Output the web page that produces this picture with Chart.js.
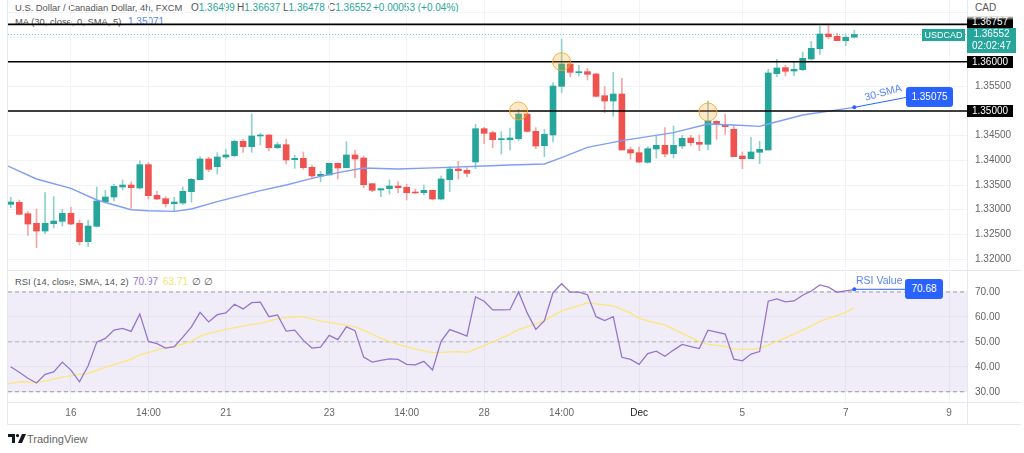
<!DOCTYPE html>
<html lang="en">
<head>
<meta charset="UTF-8">
<title>USDCAD 4h</title>
<script src="https://cdn.jsdelivr.net/npm/chart.js"></script>
<style>
    body { margin: 0; background: #fff; font-family: "Liberation Sans", Arial, sans-serif; }
    #page { position: relative; width: 1024px; height: 453px; overflow: hidden; }
    canvas { position: absolute; left: 0; z-index: 2; }
    .txt { position: absolute; white-space: nowrap; font-size: 10px; line-height: 12px; color: #555; z-index: 1; }
    .tag { position: absolute; white-space: nowrap; font-size: 10px; color: #fff; text-align: center; z-index: 3; }
    .rule { position: absolute; background: #e6e8ef; z-index: 0; }
    .teal { color: #26a69a; }
</style>
</head>
<body>
<div id="page">
    <div class="rule" style="left:7px;top:0;width:1px;height:424px"></div>
    <div class="rule" style="left:967px;top:0;width:1px;height:424px"></div>
    <div class="rule" style="left:7px;top:270px;width:1014px;height:1px"></div>
    <div class="rule" style="left:7px;top:402px;width:1014px;height:1px"></div>
    <div class="rule" style="left:7px;top:424px;width:1014px;height:1px"></div>

    <div class="txt" style="left:15px;top:2px;font-size:9.4px">U.S. Dollar / Canadian Dollar, 4h, FXCM</div>
    <div class="txt" style="left:191px;top:2px">O<span class="teal">1.36499</span></div>
    <div class="txt" style="left:237px;top:2px">H<span class="teal">1.36637</span></div>
    <div class="txt" style="left:283px;top:2px">L<span class="teal">1.36478</span></div>
    <div class="txt" style="left:328px;top:2px">C<span class="teal">1.36552</span></div>
    <div class="txt teal" style="left:373px;top:2px">+0.00053 (+0.04%)</div>
    <div class="txt" style="left:15px;top:16px;font-size:9.4px">MA (30, close, 0, SMA, 5)</div>
    <div class="txt" style="left:128px;top:16px;color:#5b83f5">1.35071</div>
    <div class="txt" style="left:975px;top:2px">CAD</div>

    <div class="txt" style="left:15px;top:276px;font-size:9.4px">RSI (14, close, SMA, 14, 2)</div>
    <div class="txt" style="left:133px;top:276px;color:#9575cd">70.97</div>
    <div class="txt" style="left:163px;top:276px;color:#f7e36c">63.71</div>
    <div class="txt" style="left:192px;top:276px">∅</div>
    <div class="txt" style="left:204px;top:276px">∅</div>

    <div class="txt" style="left:864px;top:86px;color:#5b83f5;font-size:10.5px;transform:rotate(-15deg);z-index:3">30-SMA</div>
    <div class="txt" style="left:856px;top:274px;color:#5b83f5;font-size:10.5px;z-index:3">RSI Value</div>

    <div class="tag" style="left:967px;top:16px;width:46px;height:12px;line-height:12px;background:linear-gradient(#fff,#000 35%)">1.36757</div>
    <div class="tag" style="left:967px;top:56px;width:46px;height:12px;line-height:12px;background:#000">1.36000</div>
    <div class="tag" style="left:967px;top:105px;width:46px;height:12px;line-height:12px;background:#000">1.35000</div>
    <div class="tag" style="left:922px;top:29px;width:43px;height:12px;line-height:12px;background:#26a69a;font-size:9px">USDCAD</div>
    <div class="tag" style="left:967px;top:28px;width:49px;height:25px;line-height:12px;background:#26a69a">1.36552<br>02:02:47</div>
    <div class="tag" style="left:906px;top:87px;width:47px;height:20px;line-height:20px;background:#2962ff;border-radius:3px">1.35075</div>
    <div class="tag" style="left:905px;top:279px;width:38px;height:20px;line-height:20px;background:#2962ff;border-radius:3px">70.68</div>

    <svg style="position:absolute;left:8px;top:434px" width="18" height="10" viewBox="0 0 18 10">
        <path d="M0 0h7v9H4V3H0z M9.5 0a1.6 1.6 0 1 1 0 3.2a1.6 1.6 0 0 1 0-3.2z M14 0h4l-4 9h-4z" fill="#131722"/>
    </svg>
    <div class="txt" style="left:27px;top:433px;font-size:11px;line-height:13px;color:#666">TradingView</div>

    <canvas id="priceChart" width="1024" height="270" style="top:0"></canvas>
    <canvas id="rsiChart" width="1024" height="154" style="top:270px"></canvas>
</div>

<script>
    // OHLC, one entry per 4h bar
    const opens = [
        1.33108, 1.33149, 1.32919, 1.32723, 1.32567, 1.32716, 1.32763, 1.32926, 1.32723, 1.32351,
        1.32662, 1.33162, 1.33257, 1.33460, 1.33500, 1.33439, 1.33913, 1.33291, 1.33223, 1.33122,
        1.33135, 1.33365, 1.33608, 1.34028, 1.33872, 1.34068, 1.34095, 1.34386, 1.34278, 1.34494,
        1.34514, 1.34257, 1.34318, 1.34014, 1.34041, 1.33858, 1.33683, 1.33703, 1.33940, 1.33852,
        1.34109, 1.34048, 1.33527, 1.33399, 1.33426, 1.33480, 1.33453, 1.33358, 1.33345, 1.33392,
        1.33216, 1.33608, 1.33825, 1.33798, 1.33967, 1.34642, 1.34561, 1.34419, 1.34419, 1.34440,
        1.34939, 1.34588, 1.34298, 1.34514, 1.35500, 1.35953, 1.35777, 1.35798, 1.35751, 1.35311,
        1.35203, 1.35345, 1.34217, 1.34156, 1.33960, 1.34230, 1.34305, 1.34136, 1.34291, 1.34453,
        1.34366, 1.34325, 1.34791, 1.34730, 1.34629, 1.34088, 1.34034, 1.34163, 1.34210, 1.35757,
        1.35879, 1.35811, 1.35838, 1.36055, 1.36264, 1.36562, 1.36514, 1.36426, 1.36499
    ];
    const highs = [
        1.33250, 1.33196, 1.32959, 1.33014, 1.33345, 1.33264, 1.33007, 1.33054, 1.32790, 1.32790,
        1.33460, 1.33392, 1.33521, 1.33602, 1.33568, 1.33994, 1.33953, 1.33372, 1.33264, 1.33250,
        1.33460, 1.33635, 1.34075, 1.34061, 1.34156, 1.34224, 1.34413, 1.34426, 1.34939, 1.34548,
        1.34521, 1.34366, 1.34426, 1.34102, 1.34170, 1.33906, 1.33777, 1.33946, 1.33946, 1.34379,
        1.34203, 1.34089, 1.33534, 1.33426, 1.33602, 1.33568, 1.33514, 1.33419, 1.33500, 1.33399,
        1.33683, 1.33872, 1.33980, 1.33852, 1.34730, 1.34669, 1.34588, 1.34581, 1.34656, 1.35034,
        1.34953, 1.34662, 1.34629, 1.35575, 1.36460, 1.36000, 1.35926, 1.35865, 1.35764, 1.35493,
        1.35784, 1.35662, 1.34271, 1.34271, 1.34278, 1.34494, 1.34662, 1.34696, 1.34507, 1.34507,
        1.34514, 1.35203, 1.34804, 1.34939, 1.34716, 1.34170, 1.34467, 1.34386, 1.35845, 1.36048,
        1.35926, 1.35994, 1.36197, 1.36413, 1.36724, 1.36764, 1.36575, 1.36562, 1.36637
    ];
    const lows = [
        1.33041, 1.32905, 1.32479, 1.32229, 1.32506, 1.32628, 1.32669, 1.32696, 1.32283, 1.32250,
        1.32662, 1.33149, 1.33176, 1.33399, 1.33027, 1.33419, 1.33216, 1.33203, 1.33054, 1.32966,
        1.33108, 1.33155, 1.33602, 1.33771, 1.33723, 1.34034, 1.34068, 1.34163, 1.34163, 1.34311,
        1.34190, 1.34237, 1.33926, 1.33838, 1.33818, 1.33635, 1.33561, 1.33703, 1.33622, 1.33852,
        1.33649, 1.33446, 1.33365, 1.33264, 1.33318, 1.33345, 1.33196, 1.33331, 1.33297, 1.33196,
        1.33196, 1.33365, 1.33622, 1.33669, 1.33831, 1.34338, 1.34257, 1.34129, 1.34210, 1.34399,
        1.34575, 1.34237, 1.34075, 1.34372, 1.35372, 1.35696, 1.35710, 1.35629, 1.35284, 1.34966,
        1.34892, 1.34210, 1.34021, 1.33953, 1.33940, 1.34048, 1.34075, 1.34048, 1.34244, 1.34305,
        1.34197, 1.34210, 1.34426, 1.34527, 1.34075, 1.33831, 1.34034, 1.33933, 1.34210, 1.35696,
        1.35710, 1.35710, 1.35818, 1.36034, 1.36149, 1.36467, 1.36426, 1.36325, 1.36478
    ];
    const closes = [
        1.33155, 1.32905, 1.32709, 1.32567, 1.32723, 1.32770, 1.32926, 1.32709, 1.32351, 1.32669,
        1.33176, 1.33257, 1.33473, 1.33500, 1.33446, 1.33913, 1.33284, 1.33216, 1.33122, 1.33155,
        1.33372, 1.33615, 1.34028, 1.33818, 1.34068, 1.34109, 1.34386, 1.34278, 1.34494, 1.34514,
        1.34257, 1.34318, 1.34007, 1.34041, 1.33852, 1.33683, 1.33717, 1.33940, 1.33845, 1.34109,
        1.34028, 1.33507, 1.33392, 1.33426, 1.33480, 1.33446, 1.33345, 1.33338, 1.33392, 1.33216,
        1.33622, 1.33825, 1.33791, 1.33737, 1.34642, 1.34548, 1.34419, 1.34440, 1.34453, 1.34939,
        1.34588, 1.34291, 1.34527, 1.35507, 1.35953, 1.35784, 1.35798, 1.35744, 1.35298, 1.35203,
        1.35345, 1.34210, 1.34150, 1.33967, 1.34237, 1.34305, 1.34129, 1.34305, 1.34446, 1.34359,
        1.34325, 1.34798, 1.34723, 1.34683, 1.34075, 1.34034, 1.34170, 1.34224, 1.35771, 1.35872,
        1.35805, 1.35845, 1.36068, 1.36271, 1.36562, 1.36508, 1.36426, 1.36494, 1.36552
    ];

    // 30 SMA, read at the bends of the blue line
    const smaBars = [-0.3, 3, 7, 10, 14, 16, 19, 21, 24, 29, 32, 35, 38, 41, 45, 50, 55, 58, 62, 64, 67, 71, 77, 81, 84, 87, 88, 92, 98];
    const smaVals = [1.33885, 1.33622, 1.33432, 1.33196, 1.32999, 1.32979, 1.32966, 1.33014, 1.33162, 1.33385,
        1.33500, 1.33635, 1.33750, 1.33845, 1.33824, 1.33852, 1.33885, 1.33906, 1.33926, 1.34054,
        1.34264, 1.34399, 1.34561, 1.34737, 1.34716, 1.34689, 1.34737, 1.34919, 1.35075];

    const rsiVals = [
        40.0, 37.8, 35.4, 33.5, 37.0, 38.0, 41.9, 38.7, 34.0, 40.4,
        49.9, 51.4, 54.7, 55.4, 54.2, 61.2, 50.2, 49.3, 47.5, 48.1,
        51.9, 56.0, 61.8, 58.0, 60.9, 61.6, 65.1, 63.2, 65.7, 65.9,
        60.1, 60.8, 54.3, 54.7, 50.6, 47.5, 47.9, 52.6, 50.9, 56.0,
        54.5, 43.9, 41.9, 42.6, 43.2, 43.0, 41.0, 40.8, 42.2, 38.7,
        50.2, 54.9, 53.7, 52.3, 68.0, 66.3, 62.8, 62.8, 62.9, 70.0,
        61.6, 55.0, 58.5, 69.7, 73.3, 69.9, 69.9, 68.9, 60.1, 58.5,
        60.1, 43.8, 43.0, 41.0, 45.3, 46.3, 44.2, 46.7, 49.0, 48.1,
        47.3, 54.7, 53.9, 53.1, 43.1, 42.4, 45.1, 46.1, 66.3, 67.2,
        66.0, 66.4, 68.7, 70.4, 72.8, 71.9, 69.9, 70.4, 70.97
    ];
    const rsiSmaBars = [-0.3, 1, 3, 4, 6, 8, 9, 11, 14, 15, 18, 19, 21, 22, 23, 25, 28, 29, 31, 33, 34, 36, 38, 40, 42, 43, 45, 47, 49,
        52, 53, 55, 58, 59, 61, 62, 64, 66, 67, 68, 70, 72, 73, 74, 76, 78, 80, 81, 83, 84, 86, 87, 89, 91, 93, 94, 95, 97, 98];
    const rsiSmaVals = [33.2, 34.0, 33.9, 34.3, 35.9, 37.0, 37.4, 39.8, 43.1, 44.8, 47.7, 48.1, 50.2, 52.3, 53.4, 55.0, 57.0, 57.4, 59.2, 60.1, 60.0, 58.4, 57.2, 56.1, 53.1, 51.4, 49.0, 47.1, 45.7,
        46.1, 45.8, 48.5, 53.0, 54.9, 57.2, 58.5, 62.4, 64.5, 65.6, 65.2, 64.4, 61.6, 59.4, 58.4, 56.8, 53.4, 50.1, 49.0, 48.2, 47.1, 47.0, 47.4, 50.2, 53.1, 56.4, 58.2, 59.4, 61.8, 63.71];

    const levels = [1.36757, 1.36, 1.35];
    const lastPrice = 1.36552;
    const circleBars = [59, 64, 81];
    const circlePrices = [1.35, 1.36, 1.3498];
    const smaNoteBars = [98, 104.1];
    const smaNotePrices = [1.35075, 1.35278];
    const rsiNoteBars = [98, 104];
    const rsiNoteVals = [71.07, 71.07];

    const priceTicks = [1.32, 1.325, 1.33, 1.335, 1.34, 1.345, 1.35, 1.355, 1.36, 1.365, 1.37];
    const hiddenPriceLabels = [1.35, 1.36, 1.365, 1.37];
    const rsiTicks = [30, 40, 50, 60, 70];
    const timeBars = [7, 16, 25, 37, 46, 55, 64, 73, 85, 97, 109];
    const timeLabels = ['16', '14:00', '21', '23', '14:00', '28', '14:00', 'Dec', '5', '7', '9'];

    const xMin = -0.31, xMax = 111.09;
    const UP = '#26a69a', DOWN = '#ef5350', UP_WICK = '#8ed3cb', DOWN_WICK = '#f6a5a3';
    const GRID = '#f2f3f8', AXIS_TEXT = '#666';
    const FONT = '"Liberation Sans", Arial, sans-serif';

    const isUp = opens.map((o, i) => closes[i] >= o);
    const points = (xs, ys) => xs.map((x, i) => ({ x: x, y: ys[i] }));
    const flat = v => [{ x: xMin, y: v }, { x: xMax, y: v }];

    // scales leave room for half a label at each end, the panes here run edge to edge
    function noPadding(s) {
        s.paddingTop = 0;
        s.paddingBottom = 0;
        s.paddingLeft = 0;
        s.paddingRight = 0;
    }

    function rightAxis(ticks, extra) {
        return Object.assign({
            type: 'linear',
            position: 'right',
            afterFit: s => { s.width = 57; noPadding(s); },
            afterBuildTicks: s => { s.ticks = ticks.map(v => ({ value: v })); },
            grid: { color: GRID, drawTicks: false },
            border: { display: false },
            ticks: { color: AXIS_TEXT, font: { family: FONT, size: 10 }, padding: 8, autoSkip: false, maxRotation: 0 }
        }, extra);
    }

    function timeAxis(showLabels) {
        return {
            type: 'linear',
            min: xMin,
            max: xMax,
            offset: false,
            display: true,
            afterFit: s => { s.height = showLabels ? 22 : 0; noPadding(s); },
            afterBuildTicks: s => { s.ticks = timeBars.map(v => ({ value: v })); },
            grid: { color: GRID, offset: false, drawTicks: false },
            border: { display: false },
            ticks: {
                display: showLabels,
                autoSkip: false,
                maxRotation: 0,
                padding: 5,
                color: c => (timeLabels[timeBars.indexOf(c.tick.value)] === 'Dec' ? '#222' : AXIS_TEXT),
                font: { family: FONT, size: 10 },
                callback: v => timeLabels[timeBars.indexOf(v)]
            }
        };
    }

    const lineDefaults = { type: 'line', pointRadius: 0, tension: 0, fill: false };
    const common = {
        responsive: false,
        animation: false,
        events: [],
        layout: { autoPadding: false, padding: { left: 8, right: 0, top: 0, bottom: 0 } },
        plugins: { legend: { display: false }, tooltip: { enabled: false } }
    };

    new Chart(document.getElementById('priceChart'), {
        type: 'bar',
        data: {
            datasets: [
                ...levels.map(v => Object.assign({}, lineDefaults, { data: flat(v), borderColor: '#000', borderWidth: 1.6, order: 1 })),
                Object.assign({}, lineDefaults, { data: flat(lastPrice), borderColor: 'rgba(38,166,154,.6)', borderWidth: 1, borderDash: [1, 2], order: 6 }),
                Object.assign({}, lineDefaults, { data: points(smaBars, smaVals), borderColor: '#7f9ef7', borderWidth: 1.4, order: 2 }),
                Object.assign({}, lineDefaults, {
                    data: points(smaNoteBars, smaNotePrices),
                    borderColor: '#2962ff', borderWidth: 1, order: 0,
                    pointRadius: [2, 0], pointBackgroundColor: '#2962ff', pointBorderWidth: 0
                }),
                Object.assign({}, lineDefaults, {
                    data: points(circleBars, circlePrices), showLine: false, order: 0,
                    pointRadius: 9, pointBackgroundColor: 'rgba(255,167,38,.25)',
                    pointBorderColor: 'rgba(245,166,35,.85)', pointBorderWidth: 1
                }),
                {
                    data: opens.map((o, i) => ({ x: i, y: [lows[i], highs[i]] })),
                    backgroundColor: isUp.map(u => (u ? UP_WICK : DOWN_WICK)),
                    barThickness: 1, grouped: false, order: 4
                },
                {
                    data: opens.map((o, i) => ({ x: i, y: [Math.min(o, closes[i]), Math.max(o, closes[i])] })),
                    backgroundColor: isUp.map(u => (u ? UP : DOWN)),
                    barThickness: 6, grouped: false, order: 3
                }
            ]
        },
        options: Object.assign({}, common, {
            scales: {
                x: timeAxis(false),
                y: (() => {
                    const a = rightAxis(priceTicks, { min: 1.31777, max: 1.37251 });
                    a.ticks.callback = v => (hiddenPriceLabels.includes(v) ? '' : v.toFixed(5));
                    return a;
                })()
            }
        })
    });

    new Chart(document.getElementById('rsiChart'), {
        type: 'line',
        data: {
            datasets: [
                Object.assign({}, lineDefaults, { data: flat(70), borderColor: '#9a9aa2', borderWidth: 1, borderDash: [4, 3], fill: { target: 1 }, backgroundColor: 'rgba(126,87,194,.11)', order: 5 }),
                Object.assign({}, lineDefaults, { data: flat(30), borderColor: '#9a9aa2', borderWidth: 1, borderDash: [4, 3], order: 5 }),
                Object.assign({}, lineDefaults, { data: flat(50), borderColor: '#bbbbc2', borderWidth: 1, borderDash: [4, 3], order: 5 }),
                Object.assign({}, lineDefaults, { data: points(rsiSmaBars, rsiSmaVals), borderColor: '#fbe77c', borderWidth: 1.3, order: 2 }),
                Object.assign({}, lineDefaults, { data: rsiVals.map((v, i) => ({ x: i, y: v })), borderColor: '#9575cd', borderWidth: 1.3, order: 1 }),
                Object.assign({}, lineDefaults, {
                    data: points(rsiNoteBars, rsiNoteVals),
                    borderColor: '#2962ff', borderWidth: 1, order: 0,
                    pointRadius: [2, 0], pointBackgroundColor: '#2962ff', pointBorderWidth: 0
                })
            ]
        },
        options: Object.assign({}, common, {
            scales: {
                x: timeAxis(true),
                y: (() => {
                    const a = rightAxis(rsiTicks, { min: 25.9, max: 78.8 });
                    a.ticks.callback = v => v.toFixed(2);
                    return a;
                })()
            }
        })
    });
</script>
</body>
</html>
